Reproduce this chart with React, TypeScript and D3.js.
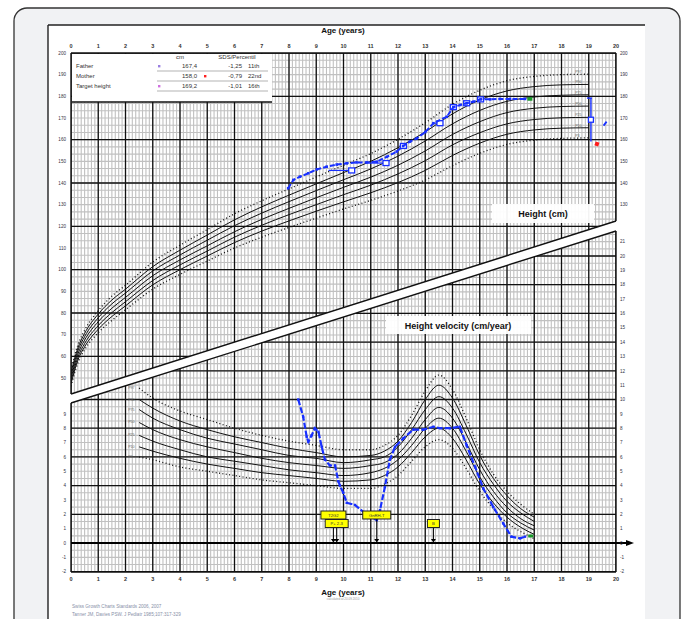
import React from 'react';
import * as d3 from 'd3';

// --- chart values ---
const yearTicks = d3.range(0, 21);
const heightLabels = d3.range(50, 201, 10);
const velocityLabels = d3.range(-2, 22, 1);
const percentileNames = ['P3', 'P10', 'P25', 'P50', 'P75', 'P90', 'P97'];

const heightAges = [0, 0.25, 0.5, 1, 1.5, 2, 3, 4, 5, 6, 7, 8, 9, 10, 11, 12, 13, 14, 15, 16, 17, 18, 19];
const heightP3 = [46.2, 56.9, 63.0, 70.9, 76.6, 81.5, 91.0, 97.8, 104.0, 110.0, 115.0, 119.5, 123.8, 128.0, 132.0, 136.3, 141.4, 148.0, 153.7, 157.8, 159.8, 160.6, 160.8];
const heightP10 = [47.4, 58.2, 64.4, 72.5, 78.4, 83.3, 93.0, 100.0, 106.3, 112.5, 117.8, 122.5, 127.0, 131.3, 135.5, 140.2, 145.8, 152.7, 158.4, 162.5, 164.5, 165.3, 165.5];
const heightP25 = [48.7, 59.5, 65.9, 74.2, 80.2, 85.2, 95.0, 102.2, 108.6, 115.0, 120.5, 125.4, 130.0, 134.6, 139.0, 144.2, 150.3, 157.6, 163.2, 167.3, 169.3, 170.1, 170.3];
const heightP50 = [50.0, 61.0, 67.5, 76.0, 82.2, 87.2, 97.2, 104.5, 111.0, 117.5, 123.2, 128.3, 133.2, 138.0, 142.7, 148.2, 154.8, 162.4, 168.3, 172.5, 174.5, 175.3, 175.5];
const heightP75 = [51.3, 62.5, 69.1, 77.8, 84.2, 89.2, 99.4, 106.8, 113.6, 120.3, 126.1, 131.4, 136.5, 141.5, 146.5, 152.4, 159.4, 167.3, 173.5, 177.7, 179.7, 180.5, 180.7];
const heightP90 = [52.6, 63.8, 70.6, 79.5, 86.0, 91.0, 101.4, 109.0, 116.0, 123.0, 129.0, 134.4, 139.6, 144.8, 150.0, 156.3, 163.6, 171.9, 178.3, 182.5, 184.5, 185.3, 185.5];
const heightP97 = [53.8, 65.1, 72.0, 81.1, 87.8, 92.8, 103.5, 111.3, 118.5, 125.8, 131.8, 137.3, 142.8, 148.2, 153.6, 160.2, 167.8, 176.3, 182.8, 187.2, 189.2, 190.0, 190.2];
const heightCurves = [heightP3, heightP10, heightP25, heightP50, heightP75, heightP90, heightP97];

const velAges = [2.5, 3, 4, 5, 6, 7, 8, 9, 10, 11, 11.5, 12, 12.5, 13, 13.5, 14, 14.5, 15, 15.5, 16, 16.5, 17];
const velP97 = [10.8, 10.1, 9.2, 8.6, 8.0, 7.5, 7.1, 6.8, 6.5, 6.5, 6.8, 7.5, 8.9, 10.6, 11.7, 10.7, 8.7, 6.5, 4.8, 3.6, 2.7, 2.0];
const velP90 = [10.0, 9.4, 8.5, 7.9, 7.4, 7.0, 6.6, 6.3, 6.0, 6.1, 6.4, 7.1, 8.4, 10.0, 11.0, 10.1, 8.2, 6.1, 4.5, 3.3, 2.4, 1.8];
const velP75 = [9.3, 8.7, 7.9, 7.3, 6.9, 6.5, 6.1, 5.9, 5.6, 5.8, 6.0, 6.7, 7.9, 9.3, 10.2, 9.4, 7.6, 5.6, 4.1, 2.9, 2.1, 1.5];
const velP50 = [8.4, 7.9, 7.2, 6.7, 6.3, 5.9, 5.6, 5.4, 5.2, 5.4, 5.6, 6.2, 7.3, 8.6, 9.45, 8.7, 7.0, 5.1, 3.6, 2.5, 1.7, 1.2];
const velP25 = [7.5, 7.1, 6.5, 6.0, 5.7, 5.4, 5.1, 4.9, 4.7, 4.9, 5.2, 5.8, 6.8, 8.0, 8.7, 8.0, 6.4, 4.6, 3.2, 2.1, 1.4, 0.9];
const velP10 = [6.7, 6.4, 5.9, 5.5, 5.2, 4.9, 4.7, 4.5, 4.3, 4.4, 4.7, 5.3, 6.3, 7.4, 8.0, 7.3, 5.8, 4.1, 2.8, 1.8, 1.1, 0.6];
const velP3 = [6.0, 5.8, 5.3, 5.0, 4.7, 4.4, 4.2, 4.0, 3.8, 3.8, 4.1, 4.7, 5.7, 6.7, 7.2, 6.6, 5.2, 3.6, 2.4, 1.4, 0.8, 0.3];
const velCurves = [velP3, velP10, velP25, velP50, velP75, velP90, velP97];

const patientAges = [7.97, 8.16, 8.4, 8.71, 9.02, 9.38, 9.75, 10.12, 10.48, 10.85, 11.22, 11.59, 11.95, 12.19, 12.44, 12.69, 13.0, 13.3, 13.79, 14.03, 14.28, 14.52, 14.76, 15.03, 15.38, 15.74, 16.11, 16.66];
const patientHeights = [137.6, 141.4, 142.9, 144.5, 146.3, 147.5, 148.5, 149.1, 149.5, 149.5, 149.8, 152.1, 154.5, 157.1, 159.1, 160.6, 163.5, 167.6, 170.6, 175.0, 176.0, 176.8, 177.5, 178.6, 178.6, 178.8, 178.8, 178.8];

const boneChronAges = [9.45, 10.9, 12.05, 13.3, 13.95, 14.4, 14.95];
const boneAges = [10.3, 11.56, 12.2, 13.54, 14.03, 14.52, 15.03];
const boneHeights = [145.8, 149.2, 157.1, 167.6, 175.0, 176.8, 178.6];

const velPatientAges = [8.34, 8.52, 8.65, 8.71, 8.83, 8.95, 9.08, 9.2, 9.32, 9.5, 9.69, 9.81, 9.87, 9.99, 10.12, 10.42, 10.79, 11.22, 11.34, 11.52, 11.7, 11.89, 12.2, 12.56, 12.93, 13.3, 13.54, 13.91, 14.27, 14.52, 14.83, 15.13, 15.5, 15.86, 16.16, 16.48, 16.66];
const velPatientValues = [10.0, 8.8, 7.4, 7.06, 7.5, 8.0, 7.75, 6.7, 5.8, 5.4, 5.4, 4.3, 4.0, 3.5, 2.8, 2.65, 2.07, 1.6, 2.3, 3.9, 5.8, 6.7, 7.3, 7.9, 7.9, 8.1, 8.0, 8.0, 8.1, 6.8, 5.3, 3.8, 2.5, 1.37, 0.44, 0.33, 0.44];

const lastHeight = { age: 16.84, value: 178.8 };
const lastVelocity = { age: 16.87, value: 0.49 };
const targetRange = { age: 19.08, low: 159.2, high: 179.2, target: 169.2 };
const fatherMark = { age: 19.6, value: 167.4 };
const motherMark = { age: 19.3, value: 158.0 };

const stageNotes = [
  { age: 9.63, label: 'T2G2', level: 0, w: 25 },
  { age: 9.75, label: 'P+ 2-3', level: 1, w: 23 },
  { age: 11.22, label: 'GnRH-T', level: 0, w: 28 },
  { age: 13.3, label: 'B', level: 1, w: 12 },
];

const legendRows = [
  { name: 'Father', cm: '167,4', sds: '-1,25', pct: '11th', color: '#9a7fe0' },
  { name: 'Mother', cm: '158,0', sds: '-0,79', pct: '22nd', color: '#ff2020' },
  { name: 'Target height', cm: '169,2', sds: '-1,01', pct: '16th', color: '#d070e0' },
];

// --- layout ---
const font = 'Liberation Sans, Arial, sans-serif';
const X0 = 71, X1 = 616;
const Y_TOP = 53, Y_BOT = 572;
const bandUpper = [[X0, 394], [X1, 221]];
const bandLower = [[X0, 403], [X1, 231]];

const x = d3.scaleLinear().domain([0, 20]).range([X0, X1]);
const yH = d3.scaleLinear().domain([200, 50]).range([Y_TOP, 378]);
const yV = d3.scaleLinear().domain([0, 12]).range([543, 370.8]);

const BLUE = '#1830ff';
const GRAY = '#c0c0c0';

const bandYAt = (line: number[][], px: number) =>
  line[0][1] + ((line[1][1] - line[0][1]) * (px - line[0][0])) / (line[1][0] - line[0][0]);

export default function App() {
  const hLine = d3.line<[number, number]>().x(d => x(d[0])).y(d => yH(d[1])).curve(d3.curveMonotoneX);
  const vLine = d3.line<[number, number]>().x(d => x(d[0])).y(d => yV(d[1])).curve(d3.curveMonotoneX);
  const ptLineH = d3.line<[number, number]>().x(d => x(d[0])).y(d => yH(d[1]));
  const ptLineV = d3.line<[number, number]>().x(d => x(d[0])).y(d => yV(d[1]));

  const minorX = d3.range(0, 20 * 8 + 1).map(i => i / 8);
  const minorH = d3.range(0, 46).map(i => 200 - (i * 10) / 3);
  const minorV = d3.range(-4, 46).map(i => i / 2);

  const heightClip = `M${X0},${Y_TOP}L${X1},${Y_TOP}L${X1},${bandUpper[1][1]}L${X0},${bandUpper[0][1]}Z`;
  const velClip = `M${X0},${bandLower[0][1]}L${X1},${bandLower[1][1]}L${X1},${Y_BOT}L${X0},${Y_BOT}Z`;

  return (
    <svg width={685} height={619} style={{ position: 'absolute', left: 0, top: 0, fontFamily: font }}>
      <defs>
        <clipPath id="clipH"><path d={heightClip} /></clipPath>
        <clipPath id="clipV"><path d={velClip} /></clipPath>
      </defs>
      <rect x={0} y={0} width={685} height={619} fill="#fff" />
      <rect x={14} y={8} width={666} height={660} rx={13} fill="#f1f2f4" stroke="#333" strokeWidth={1.3} />
      <rect x={48} y={25} width={597} height={620} fill="#fff" />
      <line x1={48} y1={25} x2={645} y2={25} stroke="#222" strokeWidth={1.4} />
      <line x1={48} y1={25} x2={48} y2={619} stroke="#222" strokeWidth={1.4} />

      {/* height grid */}
      <g clipPath="url(#clipH)">
        {minorX.map(a => <line key={'hx' + a} x1={x(a)} x2={x(a)} y1={Y_TOP} y2={400} stroke={GRAY} strokeWidth={1.1} />)}
        {minorH.map(h => <line key={'hh' + h} x1={X0} x2={X1} y1={yH(h)} y2={yH(h)} stroke={GRAY} strokeWidth={1.1} />)}
        {d3.range(40, 201, 20).map(h => <line key={'hm' + h} x1={X0} x2={X1} y1={yH(h)} y2={yH(h)} stroke="#111" strokeWidth={1.3} />)}
        {yearTicks.map(a => <line key={'hy' + a} x1={x(a)} x2={x(a)} y1={Y_TOP} y2={400} stroke="#111" strokeWidth={1.3} />)}
      </g>
      {/* velocity grid */}
      <g clipPath="url(#clipV)">
        {minorX.map(a => <line key={'vx' + a} x1={x(a)} x2={x(a)} y1={220} y2={Y_BOT} stroke={GRAY} strokeWidth={1.1} />)}
        {minorV.map(v => <line key={'vh' + v} x1={X0} x2={X1} y1={yV(v)} y2={yV(v)} stroke={GRAY} strokeWidth={1.1} />)}
        {d3.range(-2, 23, 2).map(v => <line key={'vm' + v} x1={X0} x2={X1} y1={yV(v)} y2={yV(v)} stroke="#111" strokeWidth={1.3} />)}
        {yearTicks.map(a => <line key={'vy' + a} x1={x(a)} x2={x(a)} y1={220} y2={Y_BOT} stroke="#111" strokeWidth={1.3} />)}
      </g>

      {/* frame and band */}
      <line x1={X0} y1={Y_TOP} x2={X1} y2={Y_TOP} stroke="#111" strokeWidth={1.4} />
      <line x1={X0} y1={Y_BOT} x2={X1} y2={Y_BOT} stroke="#111" strokeWidth={1.4} />
      <line x1={X0} y1={Y_TOP} x2={X0} y2={bandUpper[0][1]} stroke="#111" strokeWidth={1.4} />
      <line x1={X0} y1={bandLower[0][1]} x2={X0} y2={Y_BOT} stroke="#111" strokeWidth={1.4} />
      <line x1={X1} y1={Y_TOP} x2={X1} y2={bandUpper[1][1]} stroke="#111" strokeWidth={1.4} />
      <line x1={X1} y1={bandLower[1][1]} x2={X1} y2={Y_BOT} stroke="#111" strokeWidth={1.4} />
      <line x1={bandUpper[0][0]} y1={bandUpper[0][1]} x2={bandUpper[1][0]} y2={bandUpper[1][1]} stroke="#111" strokeWidth={1.4} />
      <line x1={bandLower[0][0]} y1={bandLower[0][1]} x2={bandLower[1][0]} y2={bandLower[1][1]} stroke="#111" strokeWidth={1.4} />

      {/* zero axis with arrow */}
      <line x1={X0} y1={yV(0)} x2={627} y2={yV(0)} stroke="#000" strokeWidth={2.2} />
      <path d={`M626,${yV(0) - 3}L634,${yV(0)}L626,${yV(0) + 3}Z`} fill="#000" />

      {/* height percentile curves */}
      <g clipPath="url(#clipH)">
        {heightCurves.map((c, i) => (
          <path key={'hc' + i} d={hLine(heightAges.map((a, j) => [a, c[j]]) as [number, number][]) || ''}
            fill="none" stroke="#111" strokeWidth={i === 0 || i === 6 ? 1.3 : 1}
            strokeDasharray={i === 0 || i === 6 ? '1 2.4' : undefined} />
        ))}
      </g>
      {heightCurves.map((c, i) => (
        <text key={'hl' + i} x={x(18.5)} y={yH(c[c.length - 2]) - 1.5} fontSize={3.6} fill="#666">{percentileNames[i]}</text>
      ))}

      {/* velocity percentile curves */}
      {velCurves.map((c, i) => (
        <path key={'vc' + i} d={vLine(velAges.map((a, j) => [a, c[j]]) as [number, number][]) || ''}
          fill="none" stroke="#111" strokeWidth={i === 0 || i === 6 ? 1.3 : 1}
          strokeDasharray={i === 0 || i === 6 ? '1 2.4' : undefined} />
      ))}
      {velCurves.map((c, i) => (
        <text key={'vl' + i} x={x(2.1)} y={yV(c[0]) + 1} fontSize={3.6} fill="#666">{percentileNames[i]}</text>
      ))}

      {/* patient height */}
      {boneAges.map((b, i) => (
        <g key={'ba' + i}>
          <line x1={x(boneChronAges[i])} x2={x(b)} y1={yH(boneHeights[i])} y2={yH(boneHeights[i])} stroke={BLUE} strokeWidth={1.2} />
          <rect x={x(b) - 3} y={yH(boneHeights[i]) - 2.5} width={6} height={5} fill="#fff" stroke={BLUE} strokeWidth={1.3} />
        </g>
      ))}
      <path d={ptLineH(patientAges.map((a, i) => [a, patientHeights[i]]) as [number, number][]) || ''}
        fill="none" stroke={BLUE} strokeWidth={2} strokeDasharray="5 2" />
      {patientAges.map((a, i) => (
        <rect key={'pm' + i} x={x(a) - 1.3} y={yH(patientHeights[i]) - 1.3} width={2.6} height={2.6} fill={BLUE} />
      ))}
      <rect x={x(lastHeight.age) - 2.5} y={yH(lastHeight.value) - 1.8} width={5} height={3.6} fill="#1a9a2a" />
      <line x1={x(targetRange.age)} x2={x(targetRange.age)} y1={yH(targetRange.high)} y2={yH(targetRange.low)} stroke={BLUE} strokeWidth={1.4} />
      <line x1={x(targetRange.age) - 4} x2={x(targetRange.age) + 1} y1={yH(targetRange.high)} y2={yH(targetRange.high)} stroke={BLUE} strokeWidth={1.4} />
      <rect x={x(targetRange.age) - 2.5} y={yH(targetRange.target) - 2.5} width={5} height={5} fill="#fff" stroke={BLUE} strokeWidth={1.3} />
      <line x1={x(fatherMark.age) - 1.5} x2={x(fatherMark.age) + 1.5} y1={yH(fatherMark.value) + 2} y2={yH(fatherMark.value) - 2} stroke={BLUE} strokeWidth={1.8} />
      <rect x={x(motherMark.age) - 2} y={yH(motherMark.value) - 2} width={4} height={4} fill="#ff1a1a" transform={`rotate(20 ${x(motherMark.age)} ${yH(motherMark.value)})`} />

      {/* patient velocity */}
      <path d={ptLineV(velPatientAges.map((a, i) => [a, velPatientValues[i]]) as [number, number][]) || ''}
        fill="none" stroke={BLUE} strokeWidth={2.2} strokeDasharray="6 2" />
      {velPatientAges.map((a, i) => (
        <rect key={'vm' + i} x={x(a) - 1.2} y={yV(velPatientValues[i]) - 1.2} width={2.4} height={2.4} fill={BLUE} />
      ))}
      <rect x={x(lastVelocity.age) - 2.5} y={yV(lastVelocity.value) - 1.5} width={5} height={3} fill="#1a9a2a" />

      {/* stage notes */}
      {stageNotes.map((n, i) => {
        const cx = x(n.age);
        const top = n.level === 0 ? 511 : 519.5;
        return (
          <g key={'sn' + i}>
            <line x1={cx} x2={cx} y1={top + 8} y2={yV(0) - 2} stroke="#000" strokeWidth={1} />
            <path d={`M${cx - 2.5},${yV(0) - 4}L${cx + 2.5},${yV(0) - 4}L${cx},${yV(0) - 0.5}Z`} fill="#000" />
            <rect x={cx - n.w / 2} y={top} width={n.w} height={8} fill="#ffff00" stroke="#222" strokeWidth={1} />
            <text x={cx} y={top + 5.6} fontSize={4.2} textAnchor="middle" fill="#333">{n.label}</text>
          </g>
        );
      })}

      {/* band labels */}
      <rect x={492} y={204} width={102} height={19} fill="#fff" opacity={0.95} />
      <text x={543} y={217} fontSize={9} fontWeight="bold" textAnchor="middle" fill="#111">Height (cm)</text>
      <rect x={386} y={316} width={145} height={18} fill="#fff" opacity={0.95} />
      <text x={458} y={328.5} fontSize={9} fontWeight="bold" textAnchor="middle" fill="#111">Height velocity (cm/year)</text>

      {/* legend */}
      <rect x={72} y={54} width={200} height={48} fill="#fff" />
      <line x1={72} x2={272} y1={102} y2={102} stroke="#111" strokeWidth={1.3} />
      <text x={180} y={59} fontSize={6} textAnchor="middle" fill="#333">cm</text>
      <text x={237} y={59} fontSize={6} textAnchor="middle" fill="#333">SDS/Percentil</text>
      {legendRows.map((r, i) => {
        const by = 68 + i * 10;
        return (
          <g key={'lg' + i}>
            <text x={76} y={by} fontSize={6} fill="#333">{r.name}</text>
            <rect x={158} y={by - 3} width={2.4} height={2.4} fill={r.color} transform={i === 1 ? 'translate(46,0)' : undefined} />
            <text x={197} y={by} fontSize={6} textAnchor="end" fill="#333">{r.cm}</text>
            <text x={242} y={by} fontSize={6} textAnchor="end" fill="#333">{r.sds}</text>
            <text x={248} y={by} fontSize={6} fill="#333">{r.pct}</text>
            <line x1={157} x2={268} y1={by + 3} y2={by + 3} stroke="#aaa" strokeWidth={0.9} />
          </g>
        );
      })}

      {/* axis labels */}
      <text x={343} y={33} fontSize={8} fontWeight="bold" textAnchor="middle" fill="#111">Age (years)</text>
      {yearTicks.map(a => (
        <text key={'tt' + a} x={x(a)} y={48} fontSize={5.5} fontWeight="bold" textAnchor="middle" fill="#333">{a}</text>
      ))}
      {yearTicks.map(a => (
        <text key={'bt' + a} x={x(a)} y={581} fontSize={5.5} fontWeight="bold" textAnchor="middle" fill="#333">{a}</text>
      ))}
      <text x={343} y={595} fontSize={8} fontWeight="bold" textAnchor="middle" fill="#111">Age (years)</text>
      <text x={343} y={600} fontSize={3} textAnchor="middle" fill="#999">calculated at 20.09.2010</text>

      {heightLabels.map(h => (
        <text key={'lh' + h} x={66} y={yH(h) + 1.7} fontSize={4.6} textAnchor="end" fill="#334">{h}</text>
      ))}
      {heightLabels.filter(h => yH(h) < bandUpper[1][1] - 4).map(h => (
        <text key={'rh' + h} x={620} y={yH(h) + 1.7} fontSize={4.6} fill="#334">{h}</text>
      ))}
      {velocityLabels.filter(v => yV(v) > bandYAt(bandLower, X0) + 5).map(v => (
        <text key={'lv' + v} x={66} y={yV(v) + 1.7} fontSize={4.6} textAnchor="end" fill="#334">{v}</text>
      ))}
      {velocityLabels.filter(v => yV(v) > bandLower[1][1] + 5).map(v => (
        <text key={'rv' + v} x={620} y={yV(v) + 1.7} fontSize={4.6} fill="#334">{v}</text>
      ))}

      {/* footer */}
      <text x={72} y={608} fontSize={4.6} fill="#8890a8">Swiss Growth Charts Standards 2006, 2007</text>
      <text x={72} y={616} fontSize={4.6} fill="#8890a8">Tanner JM, Davies PSW. J Pediatr 1985;107:317-329</text>
    </svg>
  );
}
